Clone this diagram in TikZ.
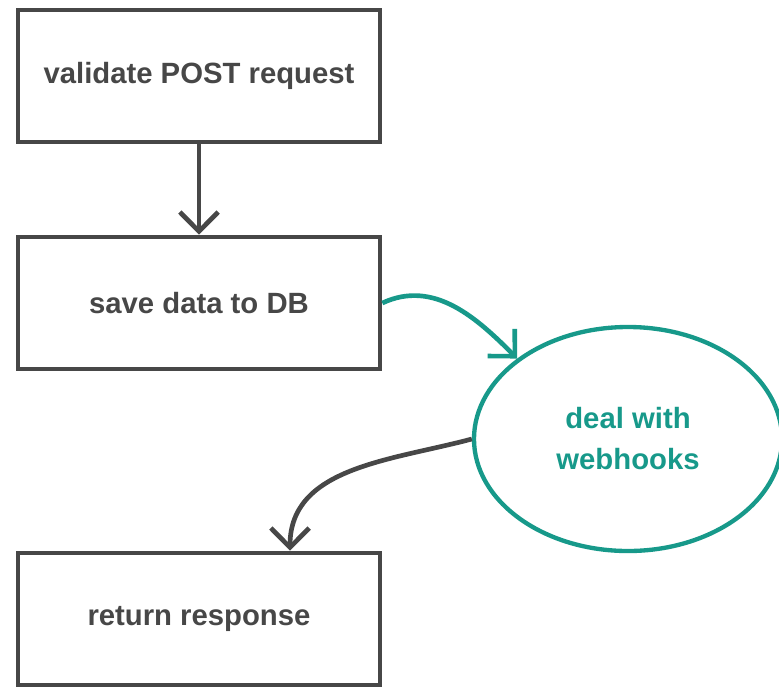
\documentclass[tikz,border=0pt]{standalone}
\usepackage{fontspec}
\setmainfont{Liberation Sans}
\usepackage{tikz}
\usetikzlibrary{shapes.geometric, arrows.meta, positioning}
\definecolor{boxgrey}{HTML}{474747}
\definecolor{hookteal}{HTML}{17998A}

\begin{document}
\begin{tikzpicture}[x=0.03cm, y=0.03cm,
  stepbox/.style={draw=boxgrey, line width=0.14cm, minimum width=10.86cm, minimum height=3.96cm, text=boxgrey, font=\fontsize{25}{35}\selectfont\bfseries},
  hookell/.style={draw=hookteal, ellipse, line width=0.13cm, minimum width=9.24cm, minimum height=6.72cm, inner sep=0pt, align=center, text=hookteal, font=\fontsize{25}{35}\selectfont\bfseries},
  flow/.style={draw=boxgrey, line width=0.14cm, -{Straight Barb[length=0.58cm, width=1.15cm]}}]
\useasboundingbox (0,0) rectangle (779,-687);
% request steps
\node[stepbox] (validate) at (199,-76) {validate POST request};
\node[stepbox] (save) at (199,-303) {save data to DB};
\node[stepbox] (ret) at (199,-619) {return response};

% side branch
\node[hookell] (hooks) at (628,-439) {deal with\\webhooks};

\draw[flow] (validate) -- (save);
\draw[flow, draw=hookteal] (save.east) to[out=25, in=135] (hooks.144);
\draw[flow] (hooks.west) to[out=195, in=90] ([xshift=2.73cm]ret.north);
\end{tikzpicture}
\end{document}
